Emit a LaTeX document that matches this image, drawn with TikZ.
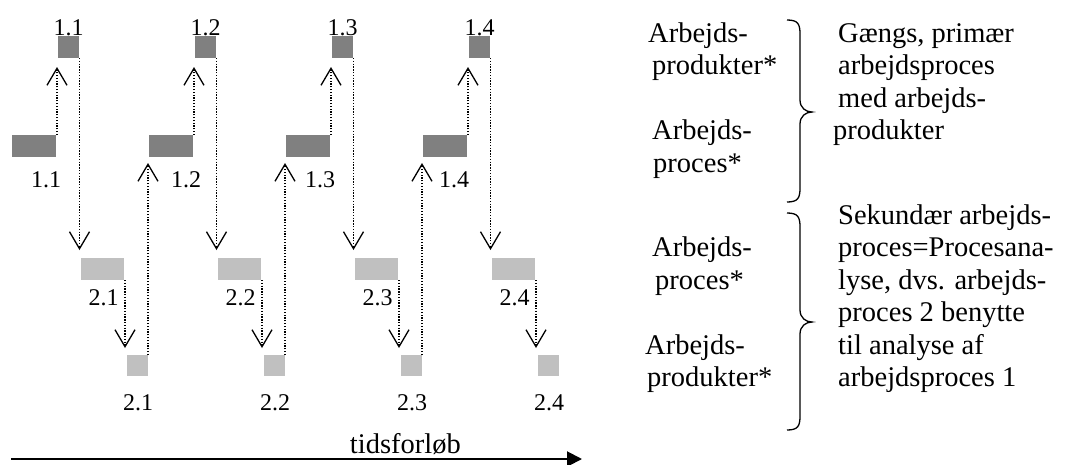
\documentclass[tikz,border=0pt]{standalone}
\usepackage{fontspec}
\setmainfont{Liberation Serif}
\usetikzlibrary{arrows.meta}
\definecolor{darkgrey}{RGB}{128,128,128}
\definecolor{lightgrey}{RGB}{192,192,192}
\begin{document}
\begin{tikzpicture}[x=1pt,y=-1pt,
  bar/.style={draw=none,inner sep=0pt,outer sep=0pt,anchor=north west},
  darkbar/.style={bar,fill=darkgrey},
  lightbar/.style={bar,fill=lightgrey},
  lbl/.style={inner sep=0pt,anchor=base,font=\fontsize{24}{28}\selectfont},
  txt/.style={inner sep=0pt,anchor=base west,font=\fontsize{28.5}{32.5}\selectfont},
  dotline/.style={line width=1.3pt,dash pattern=on 1.3pt off 1.5pt,
    -{Straight Barb[length=17pt,width=20pt,line width=1.3pt]}},
  bracepath/.style={line width=1.3pt}]
\useasboundingbox (0,0) rectangle (1070,464);

% labels of the two process rows
\foreach \i/\lx in {0/46,1/186,2/320,3/454}{
  \pgfmathsetmacro{\dx}{137*\i}
  \pgfmathtruncatemacro{\n}{\i+1}
  \node[lbl] (lt\i) at (68.5+\dx,35) {1.\n};
  \node[lbl] (lw\i) at (\lx,187) {1.\n};
  \node[lbl] (ls\i) at (103.5+\dx,305) {2.\n};
  \node[lbl] (lq\i) at (138+\dx,410) {2.\n};
}

% boxes: process 1 (dark) and process 2 (light)
\foreach \i in {0,1,2,3}{
  \pgfmathsetmacro{\dx}{137*\i}
  \node[darkbar,minimum width=44pt,minimum height=22pt] (w\i) at (12+\dx,135) {};
  \node[darkbar,minimum width=21pt,minimum height=22pt] (t\i) at (58+\dx,36) {};
  \node[lightbar,minimum width=43pt,minimum height=22pt] (s\i) at (81+\dx,258) {};
  \node[lightbar,minimum width=21pt,minimum height=21pt] (q\i) at (127+\dx,355) {};
}

% dotted transitions
\foreach \i in {0,1,2,3}{
  \draw[dotline,shorten >=9pt] ([xshift=1pt]w\i.north east) -- ([xshift=1pt]w\i.north east |- t\i.south);
  \draw[dotline,shorten >=8pt] ([xshift=0.5pt]t\i.south east) -- ([xshift=0.5pt]t\i.south east |- s\i.north);
  \draw[dotline,shorten >=7pt] ([xshift=1pt]s\i.south east) -- ([xshift=1pt]s\i.south east |- q\i.north);
}
\foreach \i in {0,1,2}{
  \pgfmathtruncatemacro{\j}{\i+1}
  \draw[dotline,shorten >=6pt] (q\i.north east) -- (q\i.north east |- w\j.south);
}

% time axis
\coordinate (ax0) at (11,459);
\coordinate (ax1) at (582,459);
\draw[line width=2pt,-{Triangle[length=15pt,width=15pt]}] (ax0) -- (ax1);
\node[txt,anchor=base east] (tid) at (461,453) {tidsforløb};

% legend texts
\node[txt] (a1) at (648,42) {Arbejds-};
\node[txt] (a2) at (652,74.5) {produkter*};
\node[txt] (a3) at (652,139.5) {Arbejds-};
\node[txt] (a4) at (653,172) {proces*};
\node[txt] (b1) at (652,256.5) {Arbejds-};
\node[txt] (b2) at (655,289) {proces*};
\node[txt] (b3) at (645,354) {Arbejds-};
\node[txt] (b4) at (647,386.5) {produkter*};

\node[txt] (c1) at (838,42) {Gængs, primær};
\node[txt] (c2) at (838,74.5) {arbejdsproces};
\node[txt] (c3) at (838,107) {med arbejds-};
\node[txt] (c4) at (833,139.5) {produkter};

\node[txt] (d1) at (838,224) {Sekundær arbejds-};
\node[txt] (d2) at (838,256.5) {proces=Procesana-};
\node[txt] (d3) at (838,289) {lyse, dvs. arbejds-};
\node[txt] (d4) at (838,321.5) {proces 2 benytte};
\node[txt] (d5) at (838,354) {til analyse af};
\node[txt] (d6) at (838,386.5) {arbejdsproces 1};

% braces
\draw[bracepath] (787,20) .. controls (798,20) and (800,24) .. (800,34)
  -- (800,100) .. controls (800,108) and (806,112) .. (812,112)
  .. controls (806,112) and (800,116) .. (800,124)
  -- (800,188) .. controls (800,198) and (798,202) .. (787,202);
\draw[bracepath] (787,213) .. controls (798,213) and (800,217) .. (800,227)
  -- (800,310) .. controls (800,318) and (806,322) .. (812,322)
  .. controls (806,322) and (800,326) .. (800,334)
  -- (800,416) .. controls (800,426) and (798,430) .. (787,430);
\end{tikzpicture}
\end{document}
